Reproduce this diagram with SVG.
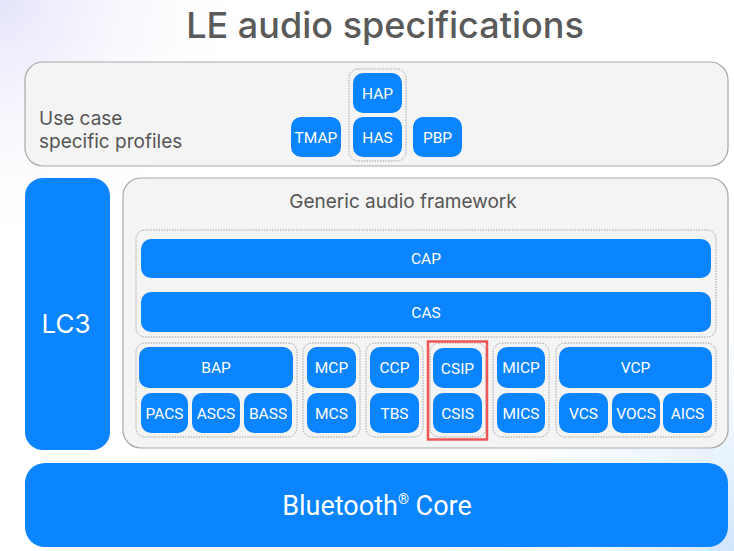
<svg xmlns="http://www.w3.org/2000/svg" width="734" height="551" viewBox="0 0 734 551">
<defs>
<radialGradient id="bgTL" cx="0" cy="0" r="260" gradientUnits="userSpaceOnUse">
<stop offset="0" stop-color="#e4e4fa"/>
<stop offset="1" stop-color="#ffffff" stop-opacity="0"/>
</radialGradient>
<radialGradient id="bgBR" cx="734" cy="551" r="300" gradientUnits="userSpaceOnUse">
<stop offset="0" stop-color="#cfe5fb"/>
<stop offset="1" stop-color="#ffffff" stop-opacity="0"/>
</radialGradient>
<style>
.panel{fill:#f4f4f4;stroke:#a8a8a8;stroke-width:1.2}
.grp{fill:none;stroke:#9a9a9a;stroke-width:0.9;stroke-dasharray:1.5 1.2}
.btn{fill:#0a84ff}
.bt{fill:#ffffff;font-family:Roboto,"Liberation Sans",sans-serif;font-size:15.5px;text-anchor:middle}
.lbl{fill:#555555;font-family:Inter,"Liberation Sans",sans-serif;font-size:19px}
</style>
</defs>
<rect width="734" height="551" fill="#ffffff"/>
<rect width="734" height="551" fill="url(#bgTL)"/>
<rect width="734" height="551" fill="url(#bgBR)"/>
<text x="385" y="38" text-anchor="middle" font-family="Inter,'Liberation Sans',sans-serif" font-size="36" font-weight="500" fill="#5a5a5a">LE audio specifications</text>

<g id="use-case-profiles">
<rect class="panel" x="25" y="62" width="703" height="104" rx="18"/>
<text class="lbl" x="39" y="125">Use case</text>
<text class="lbl" x="39" y="148">specific profiles</text>
</g>
<g id="hap-group"><rect class="grp" x="349" y="69" width="57" height="92" rx="9"/></g>
<g id="HAP"><rect class="btn" x="353" y="73" width="49" height="40" rx="10"/><text class="bt" x="377.5" y="98.5">HAP</text></g>
<g id="HAS"><rect class="btn" x="353" y="117" width="49" height="40" rx="10"/><text class="bt" x="377.5" y="142.5">HAS</text></g>
<g id="TMAP"><rect class="btn" x="291" y="117" width="50" height="40" rx="10"/><text class="bt" x="316" y="142.5">TMAP</text></g>
<g id="PBP"><rect class="btn" x="413" y="117" width="49" height="40" rx="10"/><text class="bt" x="437.5" y="142.5">PBP</text></g>

<g id="LC3"><rect class="btn" x="25" y="178" width="85" height="272" rx="18"/><text x="66" y="333" text-anchor="middle" font-family="Inter,'Liberation Sans',sans-serif" font-size="26" fill="#ffffff">LC3</text></g>

<g id="generic-audio-framework">
<rect class="panel" x="123" y="178" width="605" height="270" rx="18"/>
<text class="lbl" x="403" y="208" text-anchor="middle">Generic audio framework</text>
</g>
<g id="cap-group"><rect class="grp" x="136" y="230" width="580" height="107" rx="9"/></g>
<g id="CAP"><rect class="btn" x="141" y="239" width="570" height="39" rx="10"/><text class="bt" x="426" y="263.5">CAP</text></g>
<g id="CAS"><rect class="btn" x="141" y="292" width="570" height="40" rx="10"/><text class="bt" x="426" y="317.5">CAS</text></g>

<g id="bap-group"><rect class="grp" x="136" y="343" width="161" height="94" rx="9"/></g>
<g id="BAP"><rect class="btn" x="139" y="347" width="154" height="41" rx="10"/><text class="bt" x="216" y="373">BAP</text></g>
<g id="PACS"><rect class="btn" x="141" y="393" width="47" height="40" rx="10"/><text class="bt" x="164.5" y="418.5">PACS</text></g>
<g id="ASCS"><rect class="btn" x="192" y="393" width="48" height="40" rx="10"/><text class="bt" x="216" y="418.5">ASCS</text></g>
<g id="BASS"><rect class="btn" x="244" y="393" width="48" height="40" rx="10"/><text class="bt" x="268" y="418.5">BASS</text></g>

<g id="mcp-group"><rect class="grp" x="303" y="343" width="57" height="94" rx="9"/></g>
<g id="MCP"><rect class="btn" x="307" y="347" width="49" height="41" rx="10"/><text class="bt" x="331.5" y="373">MCP</text></g>
<g id="MCS"><rect class="btn" x="307" y="393" width="49" height="40" rx="10"/><text class="bt" x="331.5" y="418.5">MCS</text></g>

<g id="ccp-group"><rect class="grp" x="366" y="343" width="57" height="94" rx="9"/></g>
<g id="CCP"><rect class="btn" x="370" y="347" width="49" height="41" rx="10"/><text class="bt" x="394.5" y="373">CCP</text></g>
<g id="TBS"><rect class="btn" x="370" y="393" width="49" height="40" rx="10"/><text class="bt" x="394.5" y="418.5">TBS</text></g>

<g id="csip-group"><rect class="grp" x="430" y="343" width="56" height="94" rx="9"/><rect x="428" y="341.5" width="59" height="98" fill="none" stroke="#f05454" stroke-width="2.5"/></g>
<g id="CSIP"><rect class="btn" x="433" y="348" width="49" height="40" rx="10"/><text class="bt" x="457.5" y="373.5">CSIP</text></g>
<g id="CSIS"><rect class="btn" x="433" y="393" width="49" height="40" rx="10"/><text class="bt" x="457.5" y="418.5">CSIS</text></g>

<g id="micp-group"><rect class="grp" x="493" y="343" width="56" height="94" rx="9"/></g>
<g id="MICP"><rect class="btn" x="497" y="347" width="48" height="41" rx="10"/><text class="bt" x="521" y="373">MICP</text></g>
<g id="MICS"><rect class="btn" x="497" y="393" width="48" height="40" rx="10"/><text class="bt" x="521" y="418.5">MICS</text></g>

<g id="vcp-group"><rect class="grp" x="556" y="343" width="160" height="94" rx="9"/></g>
<g id="VCP"><rect class="btn" x="559" y="347" width="153" height="41" rx="10"/><text class="bt" x="635.5" y="373">VCP</text></g>
<g id="VCS"><rect class="btn" x="559" y="393" width="49" height="40" rx="10"/><text class="bt" x="583.5" y="418.5">VCS</text></g>
<g id="VOCS"><rect class="btn" x="612" y="393" width="48" height="40" rx="10"/><text class="bt" x="636" y="418.5">VOCS</text></g>
<g id="AICS"><rect class="btn" x="663" y="393" width="49" height="40" rx="10"/><text class="bt" x="687.5" y="418.5">AICS</text></g>

<g id="bluetooth-core"><rect class="btn" x="25" y="463" width="703" height="84" rx="20"/><text x="377" y="515" text-anchor="middle" font-family="Roboto,'Liberation Sans',sans-serif" font-size="27" fill="#ffffff">Bluetooth<tspan font-size="14" dy="-11">®</tspan><tspan dy="11"> Core</tspan></text></g>

<g id="connectors"/>
</svg>
